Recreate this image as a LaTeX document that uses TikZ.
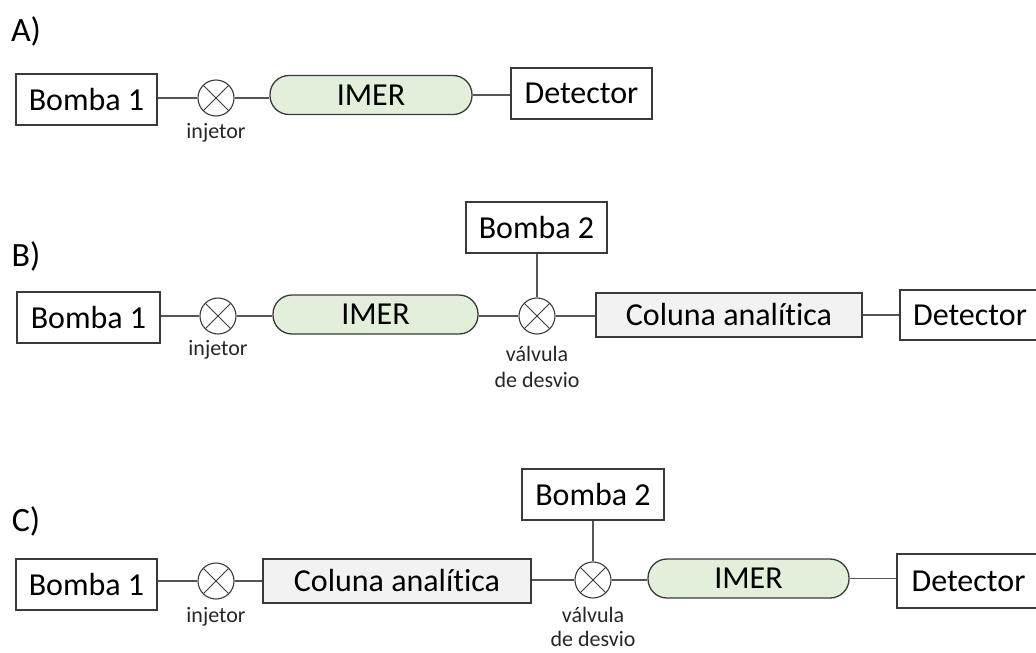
\documentclass[tikz,border=0pt]{standalone}
\usepackage{fontspec}
\setmainfont[RawFeature={-liga}]{Carlito}
\definecolor{imerfill}{HTML}{E2EFDA}
\definecolor{colfill}{HTML}{F2F2F2}
\definecolor{edge}{HTML}{3A3A3A}
\definecolor{wire}{HTML}{555555}
\begin{document}
\begin{tikzpicture}[x=1pt,y=-1pt,
  big/.style={font=\fontsize{32}{36}\selectfont},
  small/.style={font=\fontsize{22}{25}\selectfont, text=black!85, align=center, inner sep=0pt},
  box/.style={draw=edge, line width=1.3pt, fill=white, minimum width=#1, minimum height=51pt, inner sep=0pt, big},
  colbox/.style={draw=edge, line width=1.3pt, fill=colfill, minimum width=#1, minimum height=44pt, inner sep=0pt, big},
  imer/.style={draw=edge, line width=1.3pt, fill=imerfill, minimum width=#1, minimum height=39pt, rounded corners=19pt, inner sep=0pt, big},
  valve/.style={circle, draw=edge, line width=1.1pt, minimum size=36pt, inner sep=0pt,
    path picture={\draw[edge, line width=1pt] (path picture bounding box.north west) -- (path picture bounding box.south east)
      (path picture bounding box.north east) -- (path picture bounding box.south west);}},
  conn/.style={draw=wire, line width=1.3pt},
  lbl/.style={font=\fontsize{34}{38}\selectfont, inner sep=0pt}
]
\useasboundingbox (0,0) rectangle (1036,653);

% ---------- A ----------
\node[lbl] (labA) at (26,31) {A)};
\node[box=141] (B1A) at (86.5,99.5) {Bomba 1};
\node[valve] (VA) at (216,98) {};
\node[small] (injA) at (216,133) {injetor};
\node[imer=202] (IMA) at (371,95) {IMER};
\node[box=141] (DA) at (581.5,93.5) {Detector};
\draw[conn] (B1A.east |- VA) -- (VA);
\draw[conn] (VA) -- (IMA.west |- VA);
\draw[conn] (IMA) -- (DA.west |- IMA);

% ---------- B ----------
\node[lbl] (labB) at (26,256) {B)};
\node[box=143] (B1B) at (88.5,317.5) {Bomba 1};
\node[valve] (VB) at (218,316) {};
\node[small] (injB) at (218,350) {injetor};
\node[imer=205] (IMB) at (375.5,314.5) {IMER};
\node[valve] (VB2) at (537,316) {};
\node[small] (desB) at (537,366.5) {válvula\\[1pt]de desvio};
\node[box=141] (B2B) at (536.5,227.5) {Bomba 2};
\node[colbox=266] (CB) at (729,315) {Coluna analítica};
\node[box=140, minimum height=50pt] (DB) at (970,315) {Detector};
\draw[conn] (B1B.east |- VB) -- (VB);
\draw[conn] (VB) -- (IMB.west |- VB);
\draw[conn] (IMB.east |- VB2) -- (VB2);
\draw[conn] (VB2) -- (CB.west |- VB2);
\draw[conn] (B2B.south -| VB2) -- (VB2);
\draw[conn] (CB) -- (DB.west |- CB);

% ---------- C ----------
\node[lbl] (labC) at (26,521) {C)};
\node[box=141] (B1C) at (86.5,584.5) {Bomba 1};
\node[valve] (VC) at (216,581) {};
\node[small] (injC) at (216,617) {injetor};
\node[colbox=268] (CC) at (397,581) {Coluna analítica};
\node[valve] (VC2) at (593,580) {};
\node[small, font=\fontsize{22}{24}\selectfont] (desC) at (593,627) {válvula\\de desvio};
\node[box=142] (B2C) at (593,494.5) {Bomba 2};
\node[imer=201] (IMC) at (748.5,578.5) {IMER};
\node[box=143, minimum height=54pt] (DC) at (968.5,581) {Detector};
\draw[conn] (B1C.east |- VC) -- (VC);
\draw[conn] (VC) -- (CC.west |- VC);
\draw[conn] (CC.east |- VC2) -- (VC2);
\draw[conn] (VC2) -- (IMC.west |- VC2);
\draw[conn] (B2C.south -| VC2) -- (VC2);
\draw[conn] (IMC) -- (DC.west |- IMC);
\end{tikzpicture}
\end{document}
